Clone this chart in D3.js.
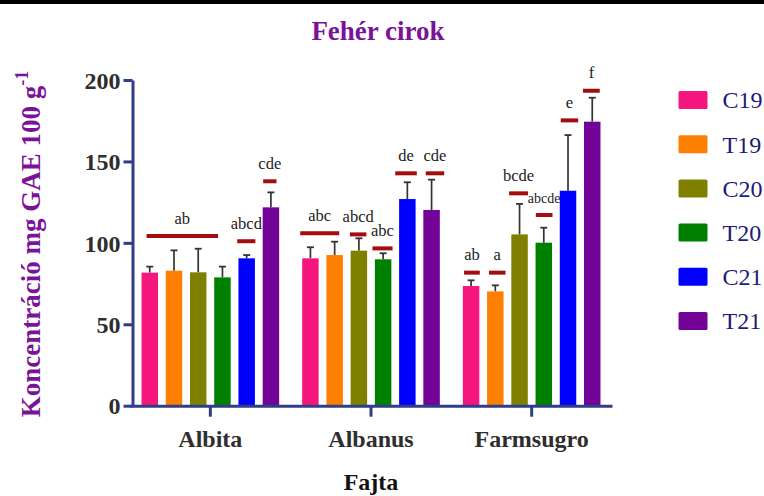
<!DOCTYPE html>
<html><head><meta charset="utf-8">
<script src="https://cdn.jsdelivr.net/npm/d3@7/dist/d3.min.js"></script>
<style>
html,body{margin:0;padding:0;background:#fff;}
svg{display:block;}
</style></head>
<body>
<svg id="chart" width="764" height="496"></svg>
<script>
// ---------- data ----------
const groups = ["Albita", "Albanus", "Farmsugro"];
const seriesNames = ["C19", "T19", "C20", "T20", "C21", "T21"];
const seriesColors = ["#f5167e", "#ff7f00", "#808000", "#008000", "#0000ff", "#730396"];

const C19 = [81.7, 90.5, 73.5];
const T19 = [82.9, 92.5, 70.2];
const C20 = [81.9, 95.2, 105.2];
const T20 = [78.8, 89.9, 100.1];
const C21 = [90.5, 126.9, 132.0];
const T21 = [121.8, 120.2, 174.4];

const errC19 = [3.7, 6.8, 3.5];
const errT19 = [12.5, 8.2, 3.7];
const errC20 = [14.5, 7.6, 18.7];
const errT20 = [6.6, 3.7, 9.2];
const errC21 = [2.0, 10.3, 34.2];
const errT21 = [9.2, 18.6, 14.7];

const yTicks = [0, 50, 100, 150, 200];

// significance letters: group index, text, span in bar slots, level (y value)
const annGroup = [0, 0, 0, 1, 1, 1, 1, 1, 2, 2, 2, 2, 2, 2];
const annText  = ["ab", "abcd", "cde", "abc", "abcd", "abc", "de", "cde", "ab", "a", "bcde", "abcde", "e", "f"];
const annFrom  = [0.21, 3.95, 5.02, -0.08, 1.97, 2.90, 3.84, 5.10, 0.05, 1.08, 1.91, 3.01, 4.04, 4.96];
const annTo    = [3.16, 4.70, 5.57, 1.53, 2.65, 3.73, 4.73, 5.86, 0.70, 1.76, 2.69, 3.70, 4.76, 5.65];
const annLevel = [104.2, 101.0, 137.8, 105.9, 105.2, 96.6, 142.7, 142.7, 81.7, 81.7, 130.4, 117.1, 175.2, 193.4];

const values = [C19, T19, C20, T20, C21, T21];
const errors = [errC19, errT19, errC20, errT20, errC21, errT21];

// ---------- layout ----------
const svg = d3.select("#chart");
const axisColor = "#323d8a";
const serif = "'Liberation Serif', 'Times New Roman', serif";
const purple = "#7b1399";

svg.append("rect").attr("x", 0).attr("y", 0).attr("width", 764).attr("height", 4).attr("fill", "#000");

const x0 = d3.scaleBand().domain(groups).range([130, 612]).padding(0);
const x1 = d3.scaleBand().domain(seriesNames).range([0, x0.bandwidth()])
  .paddingInner(0.32).paddingOuter(0.475);
const y = d3.scaleLinear().domain([0, 200]).range([405.7, 80]);

const rows = [];
groups.forEach((g, gi) => {
  seriesNames.forEach((s, si) => {
    rows.push({g, s, si, v: values[si][gi], e: errors[si][gi]});
  });
});

// error bars (drawn first, behind bars)
const eb = svg.append("g");
rows.forEach(d => {
  const cx = x0(d.g) + x1(d.s) + x1.bandwidth() / 2;
  eb.append("line").attr("x1", cx).attr("x2", cx)
    .attr("y1", y(d.v)).attr("y2", y(d.v + d.e))
    .attr("stroke", "#333").attr("stroke-width", 1.7);
  eb.append("line").attr("x1", cx - 3.5).attr("x2", cx + 3.5)
    .attr("y1", y(d.v + d.e)).attr("y2", y(d.v + d.e))
    .attr("stroke", "#333").attr("stroke-width", 1.8);
});

// bars
svg.append("g").selectAll("rect").data(rows).join("rect")
  .attr("x", d => x0(d.g) + x1(d.s))
  .attr("y", d => y(d.v))
  .attr("width", x1.bandwidth())
  .attr("height", d => y(0) - y(d.v))
  .attr("fill", d => seriesColors[d.si]);

// significance lines & letters
const step = x1.step();
const slot0 = x1(seriesNames[0]);
const an = svg.append("g");
annText.forEach((t, i) => {
  const gx = x0(groups[annGroup[i]]) + slot0;
  const xa = gx + annFrom[i] * step;
  const xb = gx + annTo[i] * step;
  const yy = y(annLevel[i]);
  an.append("line").attr("x1", xa).attr("x2", xb).attr("y1", yy).attr("y2", yy)
    .attr("stroke", "#a30d0d").attr("stroke-width", 4);
  an.append("text").attr("x", (xa + xb) / 2).attr("y", yy - 12.5)
    .attr("text-anchor", "middle")
    .attr("font-family", serif)
    .attr("font-size", t.length > 4 ? 14 : 16.5)
    .attr("fill", "#222")
    .text(t);
});

// y axis
const yAxis = svg.append("g").attr("transform", "translate(132.5,0)")
  .call(d3.axisLeft(y).tickValues(yTicks).tickSize(9).tickSizeOuter(0).tickPadding(3).tickFormat(d3.format("d")));
yAxis.select(".domain").attr("stroke", axisColor).attr("stroke-width", 3);
yAxis.selectAll(".tick line").attr("stroke", axisColor).attr("stroke-width", 3);
yAxis.selectAll(".tick text").attr("font-family", serif).attr("font-weight", "bold")
  .attr("font-size", 24).attr("fill", "#2e2e2e").attr("dy", "0.34em");

// x axis
const xAxis = svg.append("g").attr("transform", "translate(0,405.7)")
  .call(d3.axisBottom(x0).tickSize(11).tickSizeOuter(0));
xAxis.select(".domain").attr("stroke", axisColor).attr("stroke-width", 3);
xAxis.selectAll(".tick line").attr("stroke", axisColor).attr("stroke-width", 3);
xAxis.selectAll(".tick text").attr("font-family", serif).attr("font-weight", "bold")
  .attr("font-size", 24).attr("fill", "#2e2e2e").attr("y", 41).attr("dy", 0);

// titles
svg.append("text").attr("x", 378).attr("y", 40).attr("text-anchor", "middle")
  .attr("font-family", serif).attr("font-weight", "bold").attr("font-size", 27)
  .attr("fill", purple).text("Fehér cirok");

svg.append("text").attr("x", 371).attr("y", 490).attr("text-anchor", "middle")
  .attr("font-family", serif).attr("font-weight", "bold").attr("font-size", 24)
  .attr("fill", "#111").text("Fajta");

const yl = svg.append("text").attr("transform", "translate(40,244) rotate(-90)")
  .attr("text-anchor", "middle")
  .attr("font-family", serif).attr("font-weight", "bold").attr("font-size", 27)
  .attr("fill", purple);
yl.append("tspan").text("Koncentráció mg GAE 100 g");
yl.append("tspan").attr("font-size", 18).attr("dy", -12).text("-1");

// legend
const lg = svg.append("g");
seriesNames.forEach((s, i) => {
  const cy = 100 + i * 44.2;
  lg.append("rect").attr("x", 678.5).attr("y", cy - 9).attr("width", 29).attr("height", 18)
    .attr("rx", 1.5).attr("fill", seriesColors[i]);
  lg.append("text").attr("x", 722.5).attr("y", cy).attr("dy", "0.35em")
    .attr("font-family", serif).attr("font-size", 24).attr("fill", "#1c1c78").text(s);
});
</script>
</body></html>
